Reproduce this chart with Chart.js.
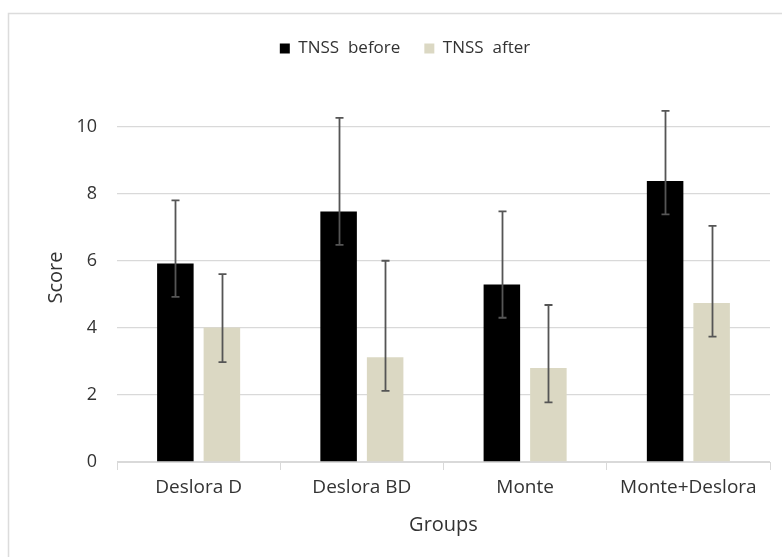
<!DOCTYPE html>
<html>
<head>
<meta charset="utf-8">
<script src="https://cdn.jsdelivr.net/npm/chart.js@4"></script>
<style>
  html, body { margin: 0; padding: 0; background: #fff; }
  #wrap { width: 782px; height: 557px; position: relative; }
</style>
</head>
<body>
<div id="wrap"><canvas id="chartTnss" width="782" height="557"></canvas></div>
<script>
const BLACK = "#000000", BEIGE = "#dbd8c3", ERR = "#555555";
const TEXT = "#333333", GRID = "#d9d9d9";

const groups = ["Deslora D", "Deslora BD", "Monte", "Monte+Deslora"];
const before = [5.92, 7.47, 5.29, 8.38];
const after = [4.01, 3.12, 2.80, 4.74];
// error bar ends
const beforeHi = [7.80, 10.26, 7.47, 10.47];
const beforeLo = [4.92, 6.47, 4.30, 7.38];
const afterHi = [5.60, 6.00, 4.68, 7.04];
const afterLo = [2.98, 2.12, 1.78, 3.74];
const yTicks = [0, 2, 4, 6, 8, 10];

Chart.defaults.font.family = "'Open Sans', Lato, sans-serif";
Chart.defaults.color = TEXT;

const frame = {
  id: "frame",
  beforeInit(chart) {
    // push the plot down, legend keeps its place
    const fit = chart.legend.fit;
    chart.legend.fit = function () {
      fit.call(this);
      this.height = 77;
    };
  },
  beforeDraw(chart) {
    const c = chart.ctx;
    c.save();
    c.fillStyle = "#fff";
    c.fillRect(0, 0, chart.width, chart.height);
    c.strokeStyle = "#dcdcdc";
    c.lineWidth = 1.5;
    c.strokeRect(8.5, 13.5, 900, 700);
    c.restore();
  }
};

const errorBars = {
  id: "errorBars",
  afterDatasetsDraw(chart) {
    const c = chart.ctx, y = chart.scales.y;
    const ends = [[beforeLo, beforeHi], [afterLo, afterHi]];
    c.save();
    c.strokeStyle = ERR;
    c.lineWidth = 1.8;
    chart.data.datasets.forEach((ds, di) => {
      chart.getDatasetMeta(di).data.forEach((bar, i) => {
        const x = Math.round(bar.x) + 0.5;
        const top = y.getPixelForValue(ends[di][1][i]);
        const bot = y.getPixelForValue(ends[di][0][i]);
        c.beginPath();
        c.moveTo(x, top); c.lineTo(x, bot);
        c.moveTo(x - 4, top); c.lineTo(x + 4, top);
        c.moveTo(x - 4, bot); c.lineTo(x + 4, bot);
        c.stroke();
      });
    });
    c.restore();
  }
};

new Chart(document.getElementById("chartTnss"), {
  type: "bar",
  data: {
    labels: groups,
    datasets: [
      { label: "TNSS  before", data: before, backgroundColor: BLACK, categoryPercentage: 0.57, barPercentage: 0.785 },
      { label: "TNSS  after", data: after, backgroundColor: BEIGE, categoryPercentage: 0.57, barPercentage: 0.785 }
    ]
  },
  options: {
    responsive: false,
    animation: false,
    layout: { padding: { left: 40, right: 12, top: 16, bottom: 0 } },
    plugins: {
      legend: {
        position: "top",
        labels: { boxWidth: 10, boxHeight: 10, padding: 24, font: { size: 17 }, color: TEXT }
      },
      tooltip: { enabled: false }
    },
    scales: {
      x: {
        afterFit: s => { s.height = 95; },
        grid: { drawOnChartArea: false, drawTicks: true, tickLength: 8, color: GRID },
        border: { color: GRID },
        ticks: { font: { size: 19 }, color: TEXT, padding: 6 },
        title: { display: true, text: "Groups", font: { size: 20 }, color: TEXT, padding: { top: 4, bottom: 20 } }
      },
      y: {
        min: 0, max: 11,
        afterFit: s => { s.width = 77; },
        afterBuildTicks: s => { s.ticks = yTicks.map(v => ({ value: v })); },
        grid: { color: GRID, drawTicks: false, lineWidth: 1.3 },
        border: { display: false },
        ticks: { font: { size: 18 }, color: TEXT, padding: 20 },
        title: { display: true, text: "Score", font: { size: 20 }, color: TEXT, padding: { top: 4, bottom: 4 } }
      }
    }
  },
  plugins: [frame, errorBars]
});
</script>
</body>
</html>
